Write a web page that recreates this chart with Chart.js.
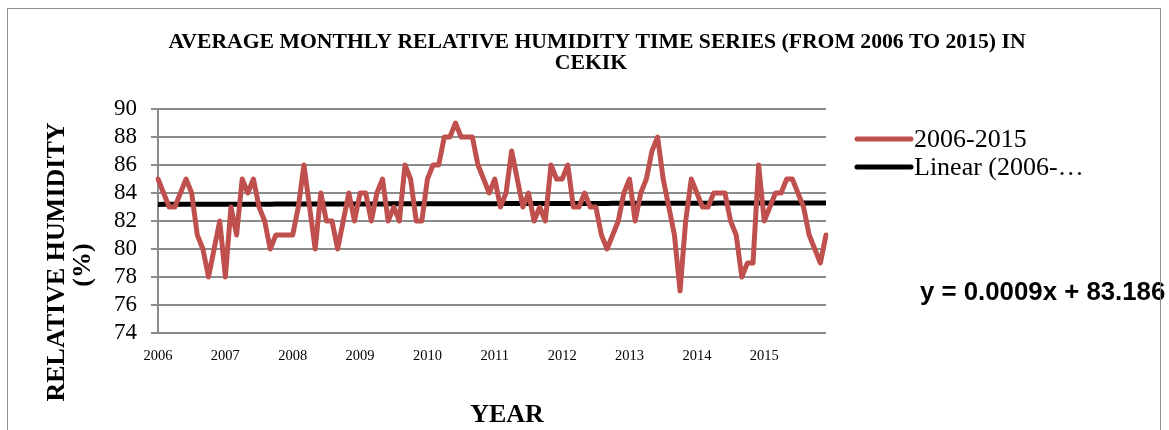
<!DOCTYPE html>
<html>
<head>
<meta charset="utf-8">
<title>Average monthly relative humidity – Cekik</title>
<script src="https://cdn.jsdelivr.net/npm/chart.js@4.4.1/dist/chart.umd.min.js"></script>
<style>
  html, body { margin: 0; padding: 0; background: #fff; }
  #wrap { position: relative; width: 1169px; height: 430px; overflow: hidden; }
  #c { position: absolute; left: 0; top: 0; }
  #frame { position: absolute; left: 7px; top: 8px; width: 1154px; height: 440px;
           border: 1px solid #8e8e8e; box-sizing: border-box; pointer-events: none; }
</style>
</head>
<body>
<div id="wrap">
  <canvas id="c" width="1169" height="430"></canvas>
  <div id="frame"></div>
</div>
<script>
// Years on the category axis (one label per January)
const years = [2006, 2007, 2008, 2009, 2010, 2011, 2012, 2013, 2014, 2015];

// Average monthly relative humidity (%), Jan..Dec of each year
const rh2006 = [85, 84, 83, 83, 84, 85, 84, 81, 80, 78, 80, 82];
const rh2007 = [78, 83, 81, 85, 84, 85, 83, 82, 80, 81, 81, 81];
const rh2008 = [81, 83, 86, 83, 80, 84, 82, 82, 80, 82, 84, 82];
const rh2009 = [84, 84, 82, 84, 85, 82, 83, 82, 86, 85, 82, 82];
const rh2010 = [85, 86, 86, 88, 88, 89, 88, 88, 88, 86, 85, 84];
const rh2011 = [85, 83, 84, 87, 85, 83, 84, 82, 83, 82, 86, 85];
const rh2012 = [85, 86, 83, 83, 84, 83, 83, 81, 80, 81, 82, 84];
const rh2013 = [85, 82, 84, 85, 87, 88, 85, 83, 81, 77, 82, 85];
const rh2014 = [84, 83, 83, 84, 84, 84, 82, 81, 78, 79, 79, 86];
const rh2015 = [82, 83, 84, 84, 85, 85, 84, 83, 81, 80, 79, 81];

// Linear trend as reported: y = 0.0009x + 83.186 (x = month number, 1..120)
const trendSlope = 0.0009;
const trendIntercept = 83.186;

// Y axis range and step
const yMin = 74, yMax = 90, yStep = 2;

const humidity = [].concat(rh2006, rh2007, rh2008, rh2009, rh2010,
                           rh2011, rh2012, rh2013, rh2014, rh2015);
const monthLabels = [];
years.forEach(y => { for (let m = 1; m <= 12; m++) monthLabels.push(y + '-' + String(m).padStart(2, '0')); });
const trend = humidity.map((_, i) => trendSlope * (i + 1) + trendIntercept);

const SERIF = '"Liberation Serif", "Times New Roman", serif';
const SANS = '"Liberation Sans", Arial, sans-serif';

// Titles, axis titles, legend and trend equation
const annotations = {
  id: 'annotations',
  afterDraw(chart) {
    const ctx = chart.ctx;
    ctx.save();
    ctx.fillStyle = '#000';

    // Chart title
    ctx.font = 'bold 21.7px ' + SERIF;
    ctx.textAlign = 'center';
    ctx.textBaseline = 'middle';
    ctx.fillText('AVERAGE MONTHLY RELATIVE HUMIDITY TIME SERIES (FROM 2006 TO 2015) IN', 597, 42);
    ctx.fillText('CEKIK', 591, 63);

    // Y axis title (two lines, rotated)
    ctx.font = 'bold 26px ' + SERIF;
    ctx.save();
    ctx.translate(57, 262);
    ctx.rotate(-Math.PI / 2);
    ctx.fillText('RELATIVE HUMIDITY', 0, 0);
    ctx.restore();
    ctx.save();
    ctx.translate(83, 265);
    ctx.rotate(-Math.PI / 2);
    ctx.fillText('(%)', 0, 0);
    ctx.restore();

    // X axis title
    ctx.fillText('YEAR', 507, 415);

    // Legend
    ctx.textAlign = 'left';
    ctx.font = '26px ' + SERIF;
    ctx.lineCap = 'round';
    chart.data.datasets.forEach((ds, k) => {
      const y = 139 + k * 28;
      ctx.strokeStyle = ds.borderColor;
      ctx.lineWidth = 5;
      ctx.beginPath();
      ctx.moveTo(857, y);
      ctx.lineTo(911, y);
      ctx.stroke();
      const text = ds.label.length > 14 ? ds.label.slice(0, 13) + '\u2026' : ds.label;
      ctx.fillText(text, 914, y + 1);
    });

    // Trend equation
    ctx.font = 'bold 25.8px ' + SANS;
    ctx.fillText('y = ' + trendSlope + 'x + ' + trendIntercept, 920, 293);
    ctx.restore();
  }
};

new Chart(document.getElementById('c'), {
  type: 'line',
  data: {
    labels: monthLabels,
    datasets: [
      {
        label: '2006-2015',
        data: humidity,
        borderColor: '#c0504d',
        borderWidth: 5,
        borderJoinStyle: 'round',
        borderCapStyle: 'round',
        pointRadius: 0,
        tension: 0,
        fill: false
      },
      {
        label: 'Linear (2006-2015)',
        data: trend,
        borderColor: '#000000',
        borderWidth: 5,
        pointRadius: 0,
        tension: 0,
        fill: false
      }
    ]
  },
  options: {
    responsive: false,
    animation: false,
    events: [],
    layout: { padding: { left: 0, right: 343, top: 109, bottom: 0 } },
    plugins: {
      legend: { display: false },
      title: { display: false },
      tooltip: { enabled: false }
    },
    scales: {
      x: {
        type: 'category',
        offset: false,
        grid: { display: false },
        border: { display: false },
        ticks: {
          autoSkip: false,
          maxRotation: 0,
          minRotation: 0,
          padding: 6,
          color: '#000',
          font: { family: SERIF, size: 14.5 },
          callback: (v, i) => (i % 12 === 0 ? String(years[i / 12]) : '')
        },
        afterFit(scale) { scale.height = 97; }
      },
      y: {
        min: yMin,
        max: yMax,
        grid: { color: '#8c8c8c', lineWidth: 2, tickLength: 7, drawTicks: true },
        border: { display: true, color: '#8c8c8c', width: 2 },
        ticks: {
          stepSize: yStep,
          autoSkip: false,
          padding: 14,
          color: '#000',
          font: { family: SERIF, size: 23 }
        },
        afterFit(scale) { scale.width = 158; }
      }
    }
  },
  plugins: [annotations]
});
</script>
</body>
</html>
